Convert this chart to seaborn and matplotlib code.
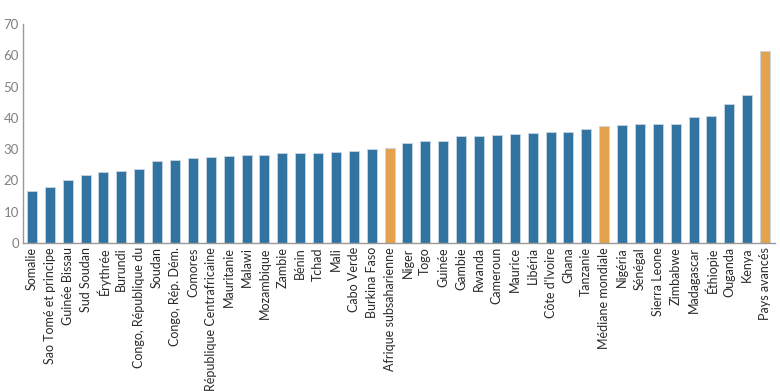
import matplotlib
matplotlib.use("Agg")
import matplotlib.pyplot as plt
import seaborn as sns
import pandas as pd

categories = ["Somalie", "Sao Tomé et principe", "Guinée Bissau", "Sud Soudan", "Érythrée",
              "Burundi", "Congo, République du", "Soudan", "Congo, Rép. Dém.", "Comores",
              "République Centrafricaine", "Mauritanie", "Malawi", "Mozambique", "Zambie",
              "Bénin", "Tchad", "Mali", "Cabo Verde", "Burkina Faso", "Afrique subsaharienne",
              "Niger", "Togo", "Guinée", "Gambie", "Rwanda", "Cameroun", "Maurice", "Libéria",
              "Côte d'Ivoire", "Ghana", "Tanzanie", "Médiane mondiale", "Nigéria", "Sénégal",
              "Sierra Leone", "Zimbabwe", "Madagascar", "Éthiopie", "Ouganda", "Kenya",
              "Pays avancés"]
values = [16.5, 17.8, 20.0, 21.7, 22.6, 22.9, 23.7, 26.3, 26.5, 27.3,
          27.5, 27.7, 28.0, 28.1, 28.7, 28.7, 28.7, 29.1, 29.3, 30.0, 30.3,
          32.1, 32.5, 32.7, 34.3, 34.3, 34.4, 35.0, 35.3, 35.6, 35.6, 36.5, 37.3,
          37.8, 38.0, 38.2, 38.2, 40.2, 40.7, 44.5, 47.2, 61.3]
highlight = ["Afrique subsaharienne", "Médiane mondiale", "Pays avancés"]
y_ticks = [0, 10, 20, 30, 40, 50, 60, 70]

BLUE = "#3274A1"
ORANGE = "#E3A24B"

sns.set_theme(style="white")
plt.rcParams["font.family"] = ["Lato", "DejaVu Sans"]

df = pd.DataFrame({"cat": categories, "val": values})
df["grp"] = ["h" if c in highlight else "n" for c in categories]

fig = plt.figure(figsize=(7.8, 3.91), dpi=100)
ax = fig.add_axes([0.0295, 0.3785, 0.964, 0.560])
sns.barplot(data=df, x="cat", y="val", hue="grp", palette={"n": BLUE, "h": ORANGE},
            dodge=False, width=0.56, saturation=1, legend=False, ax=ax,
            edgecolor="#c9d6e0", linewidth=0.6)

ax.set_xlim(-0.5, len(categories) - 0.45)
ax.set_ylim(0, 70)
ax.set_yticks(y_ticks)
ax.set_yticklabels([str(t) for t in y_ticks], color="#808080", fontsize=9.5)
ax.set_xticks(range(len(categories)))
ax.set_xticklabels(categories, rotation=90, fontsize=9, color="#2a2a2a")
ax.tick_params(axis="both", length=0, pad=3)
ax.set_xlabel("")
ax.set_ylabel("")
for s in ["top", "right"]:
    ax.spines[s].set_visible(False)
for s in ["left", "bottom"]:
    ax.spines[s].set_color("#9a9a9a")
    ax.spines[s].set_linewidth(1.0)

fig.savefig("out.png", dpi=100)
